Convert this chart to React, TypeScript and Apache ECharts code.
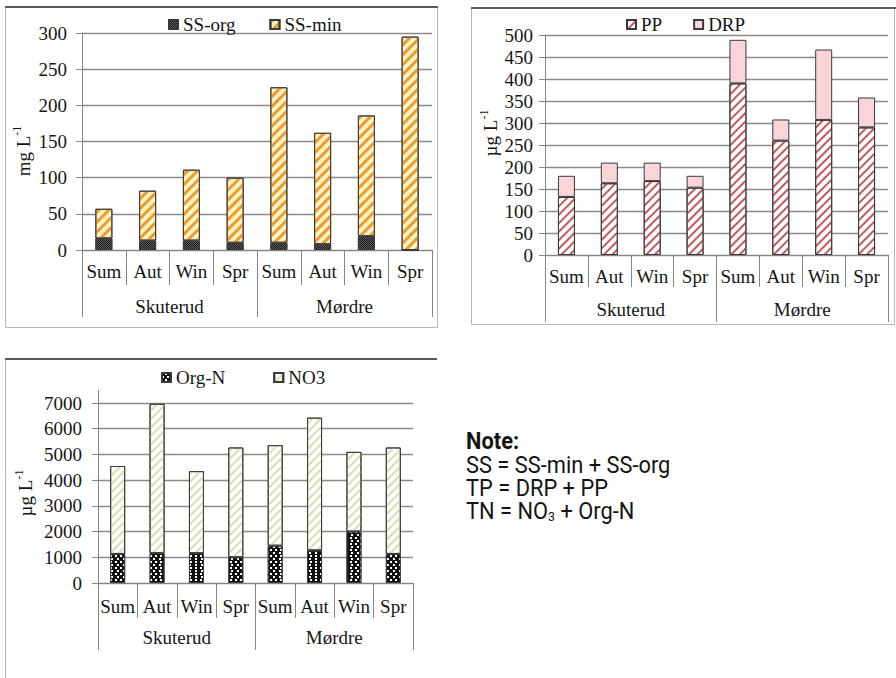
import React, { useEffect, useRef } from 'react';
import * as echarts from 'echarts';

// ---- data ----
const seasons = ['Sum', 'Aut', 'Win', 'Spr', 'Sum', 'Aut', 'Win', 'Spr'];
const sites = ['Skuterud', 'Mørdre'];

const ssOrg = [16, 13, 13, 10, 10, 8, 19, 0];
const ssMin = [41, 69, 98, 90, 215, 154, 167, 295];

const pp = [132, 163, 168, 153, 390, 260, 307, 290];
const drp = [48, 47, 42, 27, 99, 48, 160, 68];

const orgN = [1130, 1160, 1160, 1000, 1450, 1270, 2000, 1130];
const no3 = [3420, 5810, 3190, 4270, 3910, 5160, 3100, 4140];

const ssAxis = { max: 300, interval: 50 };
const tpAxis = { max: 500, interval: 50 };
const tnAxis = { max: 7000, interval: 1000 };

const noteLines = ['SS = SS-min + SS-org', 'TP = DRP + PP'];

// ---- styles ----
const serif = "'Liberation Serif', 'Times New Roman', serif";
const narrow = "Roboto, 'Liberation Sans', sans-serif";
const textColor = '#161616';
const axisGray = '#858585';
const gridGray = '#8a8a8a';
const barBorder = '#3a3a3a';
const FS = 19;

const stripes = (color: string, w: number, gap: number) => ({
  symbol: 'rect',
  color,
  dashArrayX: [1, 0],
  dashArrayY: [w, gap],
  rotation: -Math.PI / 4,
});

function seasonAxis(gridIndex: number, tickLen: number, margin: number) {
  return {
    type: 'category',
    gridIndex,
    position: 'bottom',
    data: seasons,
    axisLine: { show: true, lineStyle: { color: axisGray, width: 1 } },
    axisTick: { show: true, alignWithLabel: false, interval: 0, length: tickLen, lineStyle: { color: axisGray } },
    axisLabel: { interval: 0, margin, fontSize: FS, fontFamily: serif, color: textColor },
    splitLine: { show: false },
  };
}

function siteAxis(gridIndex: number, tickLen: number, margin: number) {
  return {
    type: 'category',
    gridIndex,
    position: 'bottom',
    data: sites,
    axisLine: { show: false },
    axisTick: { show: true, alignWithLabel: false, interval: 0, length: tickLen, lineStyle: { color: axisGray } },
    axisLabel: { interval: 0, margin, fontSize: FS, fontFamily: serif, color: textColor },
    splitLine: { show: false },
  };
}

function valueAxis(gridIndex: number, ax: { max: number; interval: number }, margin: number) {
  return {
    type: 'value',
    gridIndex,
    min: 0,
    max: ax.max,
    interval: ax.interval,
    axisLine: { show: true, lineStyle: { color: axisGray, width: 1 } },
    axisTick: { show: true, length: 6, lineStyle: { color: axisGray } },
    splitLine: { show: true, lineStyle: { color: gridGray, width: 1.3 } },
    axisLabel: {
      margin,
      fontSize: FS,
      fontFamily: serif,
      color: textColor,
      formatter: (v: number) => String(v),
    },
  };
}

function legend(names: string[], left: number, top: number, gap: number) {
  return {
    data: names,
    left,
    top,
    padding: 0,
    itemWidth: 9,
    itemHeight: 9,
    itemGap: gap,
    icon: 'rect',
    textStyle: { fontSize: FS, fontFamily: serif, color: textColor },
  };
}

function yName(text: string, x: number, y: number) {
  return {
    type: 'text',
    x,
    y,
    rotation: Math.PI / 2,
    silent: true,
    style: {
      text: `{a|${text}}{b|-1}`,
      align: 'center',
      verticalAlign: 'middle',
      rich: {
        a: { fontSize: 19, fontFamily: serif, fill: textColor, lineHeight: 24 },
        b: { fontSize: 12, fontFamily: serif, fill: textColor, lineHeight: 14, verticalAlign: 'top' },
      },
    },
  };
}

function noteText(text: string, y: number, bold = false) {
  return {
    type: 'text',
    x: 466,
    y,
    scaleX: 0.95,
    silent: true,
    style: {
      text,
      fontSize: 23,
      fontWeight: bold ? 'bold' : 'normal',
      fontFamily: narrow,
      fill: '#141414',
      verticalAlign: 'middle',
    },
  };
}

export default function App() {
  const ref = useRef<HTMLDivElement>(null);

  useEffect(() => {
    document.body.style.margin = '0';
    if (!ref.current) return;
    const chart = echarts.init(ref.current, undefined, { renderer: 'svg' });

    const option: any = {
      animation: false,
      backgroundColor: '#ffffff',
      grid: [
        { left: 82, top: 33, width: 350, height: 217 },
        { left: 545, top: 35, width: 343, height: 220 },
        { left: 98, top: 403, width: 315, height: 180 },
      ],
      xAxis: [
        seasonAxis(0, 35, 12),
        siteAxis(0, 67, 47),
        seasonAxis(1, 32, 12),
        siteAxis(1, 67, 45),
        seasonAxis(2, 35, 14),
        siteAxis(2, 67, 45),
      ],
      yAxis: [valueAxis(0, ssAxis, 15), valueAxis(1, tpAxis, 12), valueAxis(2, tnAxis, 16)],
      legend: [
        legend(['SS-org', 'SS-min'], 168, 15, 34),
        legend(['PP', 'DRP'], 626, 15, 31),
        legend(['Org-N', 'NO3'], 161, 368, 48),
      ],
      series: [
        {
          type: 'bar', name: 'SS-org', xAxisIndex: 0, yAxisIndex: 0, stack: 'ss', barWidth: 17, data: ssOrg,
          itemStyle: {
            color: '#1b1b1b', borderColor: barBorder, borderWidth: 1,
            decal: { symbol: 'rect', color: '#5c5c5c', dashArrayX: [[1, 1], [0, 1, 1, 0]], dashArrayY: [1, 0] },
          },
        },
        {
          type: 'bar', name: 'SS-min', xAxisIndex: 0, yAxisIndex: 0, stack: 'ss', barWidth: 17, data: ssMin,
          itemStyle: { color: '#FFF4C6', borderColor: barBorder, borderWidth: 1, decal: stripes('#EE9A2C', 3, 4) },
        },
        {
          type: 'bar', name: 'PP', xAxisIndex: 2, yAxisIndex: 1, stack: 'tp', barWidth: 17, data: pp,
          itemStyle: { color: '#ffffff', borderColor: barBorder, borderWidth: 1, decal: stripes('#C4585C', 2, 3.5) },
        },
        {
          type: 'bar', name: 'DRP', xAxisIndex: 2, yAxisIndex: 1, stack: 'tp', barWidth: 17, data: drp,
          itemStyle: { color: '#F9D4D8', borderColor: barBorder, borderWidth: 1 },
        },
        {
          type: 'bar', name: 'Org-N', xAxisIndex: 4, yAxisIndex: 2, stack: 'tn', barWidth: 15, data: orgN,
          itemStyle: {
            color: '#111111', borderColor: barBorder, borderWidth: 1,
            decal: { symbol: 'rect', color: '#ffffff', dashArrayX: [[2, 3], [0, 2.5, 2, 0.5]], dashArrayY: [2, 0.5] },
          },
        },
        {
          type: 'bar', name: 'NO3', xAxisIndex: 4, yAxisIndex: 2, stack: 'tn', barWidth: 15, data: no3,
          itemStyle: { color: '#ffffff', borderColor: barBorder, borderWidth: 1, decal: stripes('#D2E2AE', 1.5, 4) },
        },
      ],
      graphic: [
        // panel frames
        { type: 'rect', silent: true, shape: { x: 5.5, y: 7.5, width: 432, height: 320 }, style: { fill: 'none', stroke: '#b8b8b8', lineWidth: 1 } },
        { type: 'line', silent: true, shape: { x1: 5, y1: 7, x2: 438, y2: 7 }, style: { stroke: '#5a5a5a', lineWidth: 2 } },
        { type: 'rect', silent: true, shape: { x: 471.5, y: 8.5, width: 423, height: 316 }, style: { fill: 'none', stroke: '#b8b8b8', lineWidth: 1 } },
        { type: 'line', silent: true, shape: { x1: 471, y1: 8, x2: 896, y2: 8 }, style: { stroke: '#5a5a5a', lineWidth: 2 } },
        { type: 'line', silent: true, shape: { x1: 5.5, y1: 359, x2: 5.5, y2: 678 }, style: { stroke: '#b8b8b8', lineWidth: 1 } },
        { type: 'line', silent: true, shape: { x1: 5, y1: 359, x2: 437, y2: 359 }, style: { stroke: '#5a5a5a', lineWidth: 2 } },
        // panel 3 axis line extension above top tick
        { type: 'line', silent: true, shape: { x1: 98.5, y1: 390, x2: 98.5, y2: 403 }, style: { stroke: axisGray, lineWidth: 1 } },
        // y-axis names
        yName('mg L', 23, 151),
        yName('µg L', 490, 133),
        yName('µg L', 25, 493),
        // note
        noteText('Note:', 441, true),
        noteText(noteLines[0], 465),
        noteText(noteLines[1], 488),
        {
          type: 'text', x: 466, y: 511, scaleX: 0.95, silent: true,
          style: {
            text: '{n|TN = NO}{s|3}{n| + Org-N}',
            verticalAlign: 'middle',
            rich: {
              n: { fontSize: 23, fontFamily: narrow, fill: '#141414', lineHeight: 24 },
              s: { fontSize: 13, fontFamily: narrow, fill: '#141414', lineHeight: 12, verticalAlign: 'bottom' },
            },
          },
        },
      ],
    };

    chart.setOption(option);
    return () => chart.dispose();
  }, []);

  return <div ref={ref} style={{ width: 896, height: 678 }} />;
}
